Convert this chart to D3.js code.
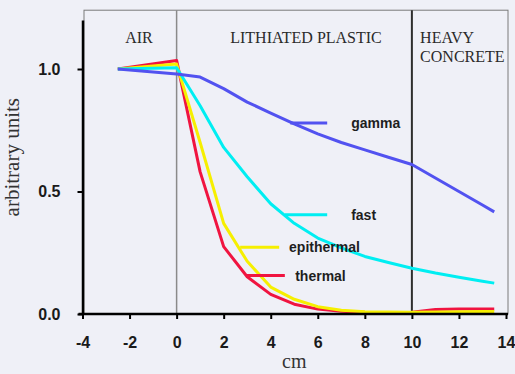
<!DOCTYPE html>
<html>
<head>
<meta charset="utf-8">
<script src="https://cdn.jsdelivr.net/npm/d3@7"></script>
<style>
  html, body { margin: 0; padding: 0; background: #eff0f7; }
  svg { display: block; }
</style>
</head>
<body>
<div id="chart"></div>
<script>
// depth in cm, shared by all four series
const depths = [-2.5, 0, 1, 2, 3, 4, 5, 6, 7, 8, 9, 10, 11, 12, 13, 13.5];

const gamma      = [1.0, 0.98, 0.967, 0.92, 0.865, 0.82, 0.776, 0.735, 0.70, 0.67, 0.64, 0.61, 0.555, 0.50, 0.445, 0.417];
const fast       = [1.0, 1.005, 0.85, 0.68, 0.56, 0.45, 0.37, 0.31, 0.27, 0.235, 0.21, 0.187, 0.167, 0.15, 0.134, 0.126];
const epithermal = [1.0, 1.02, 0.70, 0.37, 0.215, 0.11, 0.06, 0.03, 0.015, 0.009, 0.008, 0.007, 0.008, 0.009, 0.01, 0.01];
const thermal    = [1.0, 1.035, 0.58, 0.275, 0.152, 0.08, 0.04, 0.02, 0.011, 0.007, 0.006, 0.007, 0.018, 0.02, 0.02, 0.02];

const xTicks = [-4, -2, 0, 2, 4, 6, 8, 10, 12, 14];
const yTicks = [0, 0.5, 1.0];

// region names and where they sit (cm)
const regions = [
  { label: ['AIR'], at: -1.6, anchor: 'middle' },
  { label: ['LITHIATED PLASTIC'], at: 5.5, anchor: 'middle' },
  { label: ['HEAVY', 'CONCRETE'], at: 10.35, anchor: 'start' }
];

// label callouts: series name, segment start/end (cm), level, text x
const callouts = [
  { name: 'gamma',      x1: 4.83, x2: 6.4,  v: 0.78,  tx: 7.42 },
  { name: 'fast',       x1: 4.6,  x2: 6.4,  v: 0.405, tx: 7.42 },
  { name: 'epithermal', x1: 2.7,  x2: 4.36, v: 0.272, tx: 4.78 },
  { name: 'thermal',    x1: 2.98, x2: 4.6,  v: 0.157, tx: 5.04 }
];

const series = [
  { name: 'thermal',    values: thermal,    color: '#f01440' },
  { name: 'epithermal', values: epithermal, color: '#f6ef00' },
  { name: 'fast',       values: fast,       color: '#00eef2' },
  { name: 'gamma',      values: gamma,      color: '#5252f0' }
];
const colorOf = name => series.find(s => s.name === name).color;

const W = 515, H = 374;
const sans = '"Liberation Sans", Arial, sans-serif';
const serif = '"Liberation Serif", "Times New Roman", serif';

const svg = d3.select('#chart').append('svg')
  .attr('width', W)
  .attr('height', H);

svg.append('rect')
  .attr('width', W)
  .attr('height', H)
  .attr('fill', '#eff0f7');

const x = d3.scaleLinear().domain([-4, 14]).range([82.5, 506]);
const y = d3.scaleLinear().domain([0, 1.2]).range([314, 20]);

// frame around plot area
const boxTop = y(1.24);
svg.append('rect')
  .attr('x', x(-4) + 1.5)
  .attr('y', boxTop)
  .attr('width', x(14) + 2 - (x(-4) + 1.5))
  .attr('height', y(0) - boxTop)
  .attr('fill', 'none')
  .attr('stroke', '#7a7a7a')
  .attr('stroke-width', 1);

// region separators
svg.append('line')
  .attr('x1', x(0)).attr('x2', x(0))
  .attr('y1', boxTop).attr('y2', y(0))
  .attr('stroke', '#8a8a8a')
  .attr('stroke-width', 1.5);

svg.append('line')
  .attr('x1', x(10)).attr('x2', x(10))
  .attr('y1', boxTop).attr('y2', y(0))
  .attr('stroke', '#2e2e2e')
  .attr('stroke-width', 2);

// region names
regions.forEach(r => {
  const t = svg.append('text')
    .attr('x', x(r.at))
    .attr('y', 43)
    .attr('text-anchor', r.anchor)
    .attr('font-family', serif)
    .attr('font-size', '16px')
    .attr('fill', '#2a2a2a');
  r.label.forEach((line, i) => {
    t.append('tspan')
      .attr('x', x(r.at))
      .attr('dy', i === 0 ? 0 : 19)
      .text(line);
  });
});

// curves
const line = d3.line()
  .x(d => x(d[0]))
  .y(d => y(d[1]));

svg.append('g')
  .selectAll('path')
  .data(series)
  .join('path')
  .attr('d', s => line(depths.map((d, i) => [d, s.values[i]])))
  .attr('fill', 'none')
  .attr('stroke', s => s.color)
  .attr('stroke-width', 3)
  .attr('stroke-linejoin', 'round');

// callouts
const cg = svg.append('g');
cg.selectAll('line')
  .data(callouts)
  .join('line')
  .attr('x1', d => x(d.x1))
  .attr('x2', d => x(d.x2))
  .attr('y1', d => y(d.v))
  .attr('y2', d => y(d.v))
  .attr('stroke', d => colorOf(d.name))
  .attr('stroke-width', 3);

cg.selectAll('text')
  .data(callouts)
  .join('text')
  .attr('x', d => x(d.tx))
  .attr('y', d => y(d.v) + 5)
  .attr('font-family', sans)
  .attr('font-weight', 'bold')
  .attr('font-size', '14px')
  .attr('fill', '#1e1e1e')
  .text(d => d.name);

// axes (plain hyphen for negatives, as in the original)
const xAxis = svg.append('g')
  .attr('transform', `translate(0,${y(0)})`)
  .call(d3.axisBottom(x).tickValues(xTicks).tickSize(5).tickSizeOuter(0).tickPadding(18).tickFormat(d => String(d)));
xAxis.select('.domain').remove();
xAxis.append('line')
  .attr('x1', x(-4) - 4)
  .attr('x2', x(14) + 2)
  .attr('stroke', '#000')
  .attr('stroke-width', 2.5);

const yAxis = svg.append('g')
  .attr('transform', `translate(${x(-4)},0)`)
  .call(d3.axisLeft(y).tickValues(yTicks).tickSize(5).tickSizeOuter(0).tickPadding(17).tickFormat(d => d.toFixed(1)));
yAxis.select('.domain')
  .attr('stroke', '#000')
  .attr('stroke-width', 2.5);

[xAxis, yAxis].forEach(g => {
  g.selectAll('.tick line').attr('stroke', '#000').attr('stroke-width', 2);
  g.selectAll('.tick text')
    .attr('font-family', sans)
    .attr('font-weight', 'bold')
    .attr('font-size', '16px')
    .attr('fill', '#1a1a1a');
});

// axis titles
svg.append('text')
  .attr('x', x(5))
  .attr('y', 368)
  .attr('text-anchor', 'middle')
  .attr('font-family', serif)
  .attr('font-size', '20px')
  .attr('fill', '#333')
  .text('cm');

svg.append('text')
  .attr('transform', `translate(19,${y(0.64)}) rotate(-90)`)
  .attr('text-anchor', 'middle')
  .attr('font-family', serif)
  .attr('font-size', '21px')
  .attr('fill', '#333')
  .text('arbitrary units');
</script>
</body>
</html>
